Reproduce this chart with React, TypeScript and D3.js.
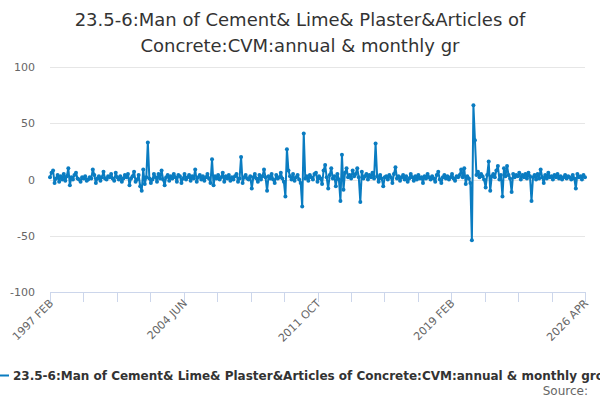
import React, { FC, useEffect, useRef } from "react";
import * as d3 from "d3";

// Monthly values, Feb 1997 .. Apr 2026
const growth: number[] = [
    2, 6, 8, -3, 1, 4, -2, 3, 0, 5,
    -1, 3, 10, -5, 2, 0, 4, 6, 1, 0,
    -2, 2, 1, 3, -1, 0, 2, 1, 9, 4,
    -3, 1, 3, -1, 2, 7, 1, 0, 3, 2,
    5, 1, -1, 6, 2, 0, 3, -2, 1, 4,
    2, 5, -5, 1, 3, 7, -2, 0, 4, -6,
    -10, 9, -4, 2, 33, 1, -3, 0, 5, 2,
    -2, 5, 1, 8, 0, -5, 2, 4, -1, 3,
    1, 5, 2, -2, 4, 3, -3, 1, 5, 0,
    2, 4, -1, 3, 1, 9, -2, 2, 4, 0,
    3, -1, 2, 5, 1, -3, 18, -5, 3, 1,
    4, 0, 2, 6, -2, 3, 1, 4, -1, 2,
    0, 3, 5, -2, 1, 20, -3, 2, 4, 1,
    0, 3, -8, 2, 5, 1, -2, 4, 0, 3,
    9, 2, -10, 3, 1, 5, 0, -3, 4, 1,
    2, 6, 1, -2, -15, 27, 8, 3, 0, 5,
    -1, 2, 4, 0, -3, -24, 41, 1, 3, -1,
    4, 2, 0, 5, 6, -2, 3, 1, -4, 8,
    13, 2, -8, 4, 10, 1, 3, -6, 5, 0,
    -19, 22, -9, 6, 10, 2, 4, 1, 8, 3,
    5, 10, 2, -20, 7, 1, 3, 5, 0, 4,
    2, 6, 1, 32, 3, -2, 4, 1, -6, 2,
    3, 0, 4, 2, -3, 5, 11, 1, 3, -1,
    2, 4, 0, 3, -2, 1, 5, 2, -1, 3,
    0, 4, 1, 2, -3, 3, 1, 5, 2, 0,
    3, 1, -2, 4, 7, 0, -3, 2, 4, 1,
    3, 0, 2, 5, 1, -1, 3, 2, 4, 9,
    2, 10, -4, 3, 1, -3, -54, 66, 35, 4,
    7, 2, 5, 3, 0, -7, 4, 16, -10, 3,
    5, 2, 8, 12, 0, 4, -15, 10, 3, 12,
    4, 1, -11, 5, 2, 4, 3, 6, 0, 4,
    2, 5, 1, 6, 3, -19, 2, 4, 0, 5,
    1, 9, 2, -3, 4, 1, 6, 2, 3, 0,
    4, 2, 5, 1, 3, 0, 2, 4, 1, 3,
    2, 0, 4, 1, -8, 5, 2, 3, 0, 4,
    2,
];

const xLabels = ["1997 FEB", "2004 JUN", "2011 OCT", "2019 FEB", "2026 APR"];
const yTicks = [-100, -50, 0, 50, 100];
const titleLines = [
    "23.5-6:Man of Cement& Lime& Plaster&Articles of",
    "Concrete:CVM:annual & monthly gr",
];
const seriesName = "23.5-6:Man of Cement& Lime& Plaster&Articles of Concrete:CVM:annual & monthly growth";

const App: FC = () => {
    const svgRef = useRef<SVGSVGElement | null>(null);

    const width = 600;
    const height = 400;
    const color = "#0a7cc1";
    const font = "'DejaVu Sans', sans-serif";

    useEffect(() => {
        if (!svgRef.current) return;
        const svg = d3.select(svgRef.current);
        svg.selectAll("*").remove();

        const n = growth.length - 1;
        const x = d3.scaleLinear().domain([0, n]).range([50, 585]);
        const y = d3.scaleLinear().domain([-100, 100]).range([292, 67]);

        // title
        svg.append("g")
            .selectAll("text")
            .data(titleLines)
            .join("text")
            .attr("x", width / 2)
            .attr("y", (d, i) => 26 + i * 26)
            .attr("text-anchor", "middle")
            .style("font-family", font)
            .style("font-size", "18px")
            .style("fill", "#333333")
            .text(d => d);

        // grid
        svg.append("g")
            .selectAll("line")
            .data(yTicks.filter(t => t > -100))
            .join("line")
            .attr("x1", 50)
            .attr("x2", 585)
            .attr("y1", d => Math.round(y(d)) + 0.5)
            .attr("y2", d => Math.round(y(d)) + 0.5)
            .attr("stroke", "#e6e6e6");

        svg.append("g")
            .selectAll("text")
            .data(yTicks)
            .join("text")
            .attr("x", 35)
            .attr("y", d => y(d) + 4)
            .attr("text-anchor", "end")
            .style("font-family", font)
            .style("font-size", "11px")
            .style("fill", "#666666")
            .text(d => d);

        // x axis
        const tickIdx = d3.range(17).map(i => (i * n) / 16);
        const axis = svg.append("g");
        axis.append("line")
            .attr("x1", 50)
            .attr("x2", 585)
            .attr("y1", 292.5)
            .attr("y2", 292.5)
            .attr("stroke", "#ccd6eb");
        axis.selectAll("line.tick")
            .data(tickIdx)
            .join("line")
            .attr("class", "tick")
            .attr("x1", d => Math.round(x(d)) + 0.5)
            .attr("x2", d => Math.round(x(d)) + 0.5)
            .attr("y1", 292)
            .attr("y2", 302)
            .attr("stroke", "#ccd6eb");
        axis.selectAll("text")
            .data(xLabels)
            .join("text")
            .attr("transform", (d, i) => `translate(${x(tickIdx[i * 4]) + 4},${304}) rotate(-45)`)
            .attr("text-anchor", "end")
            .style("font-family", font)
            .style("font-size", "11px")
            .style("fill", "#666666")
            .text(d => d);

        // series
        const line = d3.line<number>()
            .x((d, i) => x(i))
            .y(d => y(d));
        svg.append("path")
            .datum(growth)
            .attr("d", line)
            .attr("fill", "none")
            .attr("stroke", color)
            .attr("stroke-width", 2)
            .attr("stroke-linejoin", "round");
        svg.append("g")
            .selectAll("circle")
            .data(growth)
            .join("circle")
            .attr("cx", (d, i) => x(i))
            .attr("cy", d => y(d))
            .attr("r", 2)
            .attr("fill", color);

        // legend (runs off the right edge, as in the original)
        svg.append("line")
            .attr("x1", 0)
            .attr("x2", 9)
            .attr("y1", 375.5)
            .attr("y2", 375.5)
            .attr("stroke", color)
            .attr("stroke-width", 2);
        svg.append("text")
            .attr("x", 13)
            .attr("y", 380)
            .style("font-family", font)
            .style("font-size", "12px")
            .style("font-weight", "bold")
            .style("fill", "#333333")
            .text(seriesName);

        svg.append("text")
            .attr("x", 588)
            .attr("y", 395)
            .attr("text-anchor", "end")
            .style("font-family", font)
            .style("font-size", "12px")
            .style("fill", "#666666")
            .text("Source:");
    }, []);

    return (
        <div style={{ position: "absolute", left: 0, top: 0 }}>
            <svg ref={svgRef} width={width} height={height} style={{ display: "block", background: "#ffffff" }}></svg>
        </div>
    );
};

export default App;
